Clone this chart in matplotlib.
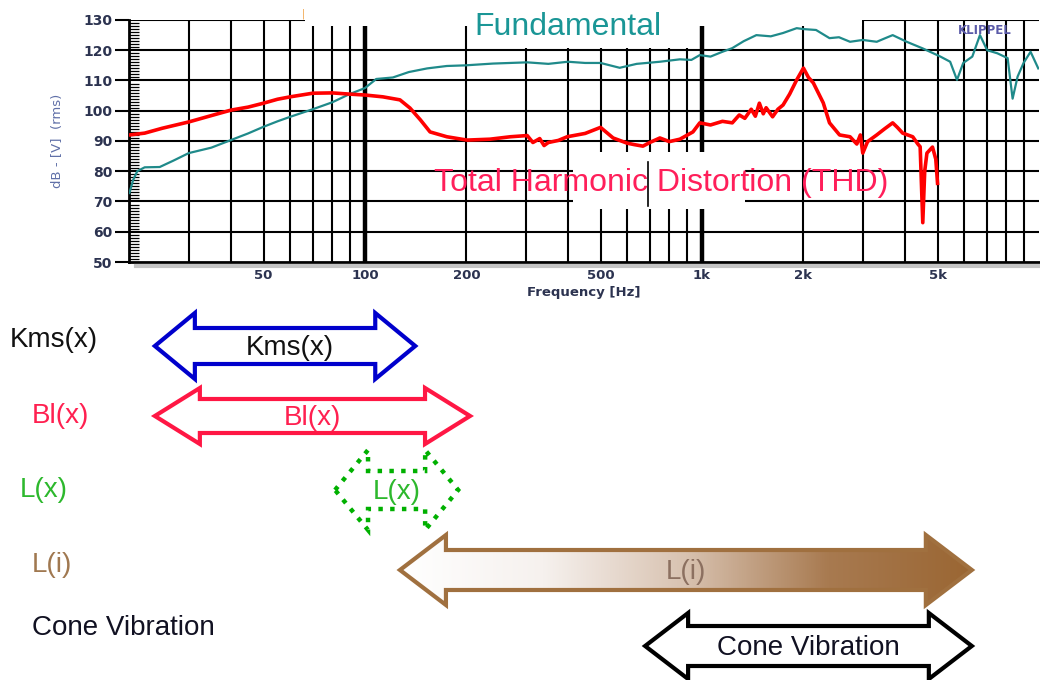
import matplotlib
matplotlib.use('Agg')
import matplotlib.pyplot as plt
from matplotlib.patches import Polygon, Rectangle
from matplotlib.colors import LinearSegmentedColormap
from matplotlib.ticker import MultipleLocator, NullLocator
import numpy as np

########################################################################
            # Datos

# Fundamental (dB) vs frecuencia (Hz)
fund_freq = [20, 20.5, 21.1, 22.2, 24.6, 27, 30, 35, 40, 45, 50, 55, 60, 70, 80, 90, 100,
             108, 121, 135, 153, 175, 198, 240, 303, 350, 400, 450, 500, 570, 640, 750,
             860, 930, 985, 1060, 1150, 1230, 1330, 1450, 1600, 1740, 1910, 2000, 2180,
             2390, 2550, 2750, 3000, 3300, 3500, 3680, 4050, 4520, 5100, 5450, 5710, 5960,
             6340, 6680, 7020, 7520, 8070, 8350, 8640, 9000, 9440, 9950]
fund_db = [72.8, 77, 80, 81.3, 81.4, 83.5, 86, 87.8, 90.3, 92.5, 94.7, 96.5, 98, 100.5,
           102.8, 105.5, 107.5, 110.5, 111, 112.8, 114, 114.8, 115, 115.6, 116, 115.5,
           116.2, 115.8, 115.8, 114.2, 115.5, 116.2, 117, 116.8, 118.4, 117.9, 119.5,
           120.7, 123, 125, 124.6, 125.7, 127.3, 127, 126.7, 124, 124.3, 122.8, 123.4,
           122.8, 124, 125, 122.8, 120.6, 117.9, 116.2, 110.2, 115.8, 117.9, 125, 120,
           119, 117.4, 104, 111.3, 115.8, 119.5, 114]

# THD (dB) vs frecuencia (Hz)
thd_freq = [20, 22.2, 25, 30, 35, 40, 45, 50, 55, 60, 70, 80, 90, 100, 113, 127, 136, 146,
            156, 175, 201, 235, 270, 303, 315, 330, 340, 350, 375, 398, 450, 500, 545, 599,
            630, 668, 700, 750, 800, 860, 940, 985, 1060, 1150, 1230, 1290, 1340, 1400,
            1440, 1480, 1520, 1550, 1620, 1680, 1740, 1820, 1910, 2000, 2070, 2140, 2290,
            2390, 2560, 2750, 2880, 2950, 3000, 3100, 3300, 3480, 3680, 3800, 3940, 4220,
            4370, 4440, 4520, 4580, 4650, 4830, 4940, 5000]
thd_db = [92, 92.6, 94.2, 96.3, 98.4, 100.2, 101.2, 102.5, 103.8, 104.6, 105.8, 105.9,
          105.5, 105.2, 104.6, 103.6, 100.9, 97, 93, 91.4, 90.3, 90.6, 91.4, 91.8, 89.5,
          90.8, 88.5, 89.5, 90.2, 91.4, 92.5, 94.5, 91, 89.3, 88.8, 88.3, 89.5, 91, 89.8,
          90.6, 93, 96, 95.3, 96.5, 96, 98.6, 97.5, 100.5, 98.2, 102.5, 99, 101, 98,
          100.5, 101.9, 105.5, 110.2, 114.1, 111, 109.2, 102.6, 96, 92, 91.4, 89, 92,
          86, 89.8, 92, 94, 96, 94.5, 92.6, 91.4, 89, 88.1, 63, 80, 86, 88, 84, 76]

x_ticks = [50, 100, 200, 500, 1000, 2000, 5000]
x_tick_labels = ['50', '100', '200', '500', '1k', '2k', '5k']
y_ticks = [50, 60, 70, 80, 90, 100, 110, 120, 130]
grid_finos = [30, 40, 50, 60, 70, 80, 90, 200, 300, 400, 500, 600, 700, 800, 900,
              2000, 3000, 4000, 5000, 6000, 7000, 8000, 9000]
grid_gruesos = [100, 1000]

# Rangos de frecuencia de cada efecto (Hz)
efectos = ['Kms(x)', 'Bl(x)', 'L(x)', 'L(i)', 'Cone Vibration']
efecto_desde = [23.8, 23.8, 81.5, 127, 678]
efecto_hasta = [141, 205, 189, 6320, 6320]

########################################################################
            # Grafico de respuesta

fig = plt.figure(figsize=(10.4, 6.8), dpi=100)
W, H = 1040, 680

ax = fig.add_axes([129.4 / W, 1 - 262 / H, (1039 - 129.4) / W, 242 / H])
ax.set_xscale('log')
ax.set_xlim(20, 10000)
ax.set_ylim(50, 130)

for f in grid_finos:
    ax.axvline(f, color='black', lw=1.5, zorder=1)
for f in grid_gruesos:
    ax.axvline(f, color='black', lw=3.2, zorder=1)
for y in y_ticks[1:]:
    ax.axhline(y, color='black', lw=1.5, zorder=1)

ax.plot(fund_freq, fund_db, color='#1f8a8a', lw=1.6, zorder=3)
ax.plot(thd_freq, thd_db, color='#ff0000', lw=2.6, zorder=3)

for s in ['top', 'right']:
    ax.spines[s].set_visible(False)
for s in ['left', 'bottom']:
    ax.spines[s].set_linewidth(2)

ax.set_yticks(y_ticks)
ax.yaxis.set_minor_locator(MultipleLocator(1))
ax.tick_params(axis='y', which='major', direction='out', length=10, width=1.5,
               labelsize=10, labelcolor='#2c3350', pad=2)
ax.tick_params(axis='y', which='minor', direction='in', length=7, width=0.9)
for lab in ax.get_yticklabels():
    lab.set_fontweight('bold')

ax.set_xticks(x_ticks)
ax.set_xticklabels(x_tick_labels, fontweight='bold')
ax.xaxis.set_minor_locator(NullLocator())
ax.tick_params(axis='x', which='major', length=0, labelsize=9.5,
               labelcolor='#2c3350', pad=5)

ax.set_xlabel('Frequency [Hz]', fontsize=9.5, fontweight='bold', color='#2c3350', labelpad=3)
ax.set_ylabel('dB - [V]  (rms)', fontsize=9.5, color='#6070a8', labelpad=14)

########################################################################
            # Capa de anotaciones en pixeles

ov = fig.add_axes([0, 0, 1, 1], zorder=2)
ov.set_facecolor('none')
ov.axis('off')

# recortes blancos sobre la rejilla
for (x0, y0, x1, y1) in [(305, 0, 862, 26), (478, 0, 699, 48), (573, 152, 745, 209)]:
    ov.add_patch(Rectangle((x0, y0), x1 - x0, y1 - y0, facecolor='white',
                           edgecolor='none', zorder=1))
ov.plot([648, 648], [162, 206], color='black', lw=1.2, zorder=2)
ov.plot([136, 1038], [265.5, 265.5], color='#c4c4c4', lw=3, zorder=1)

fuente = 'Liberation Sans'
ov.text(568, 27, 'Fundamental', fontsize=23, color='#1a9696', family=fuente,
        ha='center', va='center', zorder=3)
ov.text(661, 183, 'Total Harmonic Distortion (THD)', fontsize=23, color='#ff1f5a',
        family=fuente, ha='center', va='center', zorder=3)
ov.text(985, 31, 'KLIPPEL', fontsize=8.5, fontweight='bold', color='#5a5aa8',
        ha='center', va='center', zorder=3)
ov.text(303, 14, '|', fontsize=7, color='#f0a040', ha='center', va='center', zorder=3)


def a_pixel(f):
    return ax.transData.transform((f, 100))[0]


def flecha(x0, x1, yc, cabeza, medio_cab, medio_eje):
    return [(x0, yc), (x0 + cabeza, yc - medio_cab), (x0 + cabeza, yc - medio_eje),
            (x1 - cabeza, yc - medio_eje), (x1 - cabeza, yc - medio_cab), (x1, yc),
            (x1 - cabeza, yc + medio_cab), (x1 - cabeza, yc + medio_eje),
            (x0 + cabeza, yc + medio_eje), (x0 + cabeza, yc + medio_cab)]


centros = [346, 416, 490, 570, 646]
formas = [(40, 33, 18), (45, 28, 17), (33, 40, 19), (46, 35, 20), (43, 33, 20)]
bordes = ['#0000cc', '#ff1744', '#00b000', '#a0703f', '#000000']
textos_color = ['#111111', '#ff2050', '#2db82d', '#8c7060', '#111122']
etiquetas_x = [10, 32, 20, 32, 32]
etiquetas_y = [340, 416, 490, 565, 628]
etiquetas_color = ['#111111', '#ff2050', '#2db82d', '#a07850', '#111122']

cmap_li = LinearSegmentedColormap.from_list('li', ['#ffffff', '#f6f1ee', '#d8c2b0',
                                                   '#a87a50', '#9a6633'])

for i, nombre in enumerate(efectos):
    x0 = a_pixel(efecto_desde[i])
    x1 = a_pixel(efecto_hasta[i])
    yc = centros[i]
    cab, mc, me = formas[i]
    pts = flecha(x0, x1, yc, cab, mc, me)
    estilo = ':' if nombre == 'L(x)' else '-'
    poly = Polygon(pts, closed=True, facecolor='white' if nombre != 'L(i)' else 'none',
                   edgecolor=bordes[i], lw=3 if nombre != 'L(x)' else 3.2,
                   linestyle=estilo, joinstyle='miter', zorder=3)
    ov.add_patch(poly)
    if nombre == 'L(i)':
        grad = np.linspace(0, 1, 256).reshape(1, -1)
        im = ov.imshow(grad, extent=[x0, x1, yc + mc, yc - mc], cmap=cmap_li,
                       aspect='auto', zorder=2)
        im.set_clip_path(poly)
    ov.text((x0 + x1) / 2 + (5 if nombre == 'Kms(x)' else 0), yc + 2, nombre,
            fontsize=20, family=fuente, color=textos_color[i],
            ha='center', va='center', zorder=4)
    ov.text(etiquetas_x[i], etiquetas_y[i], nombre, fontsize=20, family=fuente,
            color=etiquetas_color[i], ha='left', va='center', zorder=4)

ov.set_xlim(0, W)
ov.set_ylim(H, 0)

plt.savefig('out.png', dpi=100)
plt.close('all')
